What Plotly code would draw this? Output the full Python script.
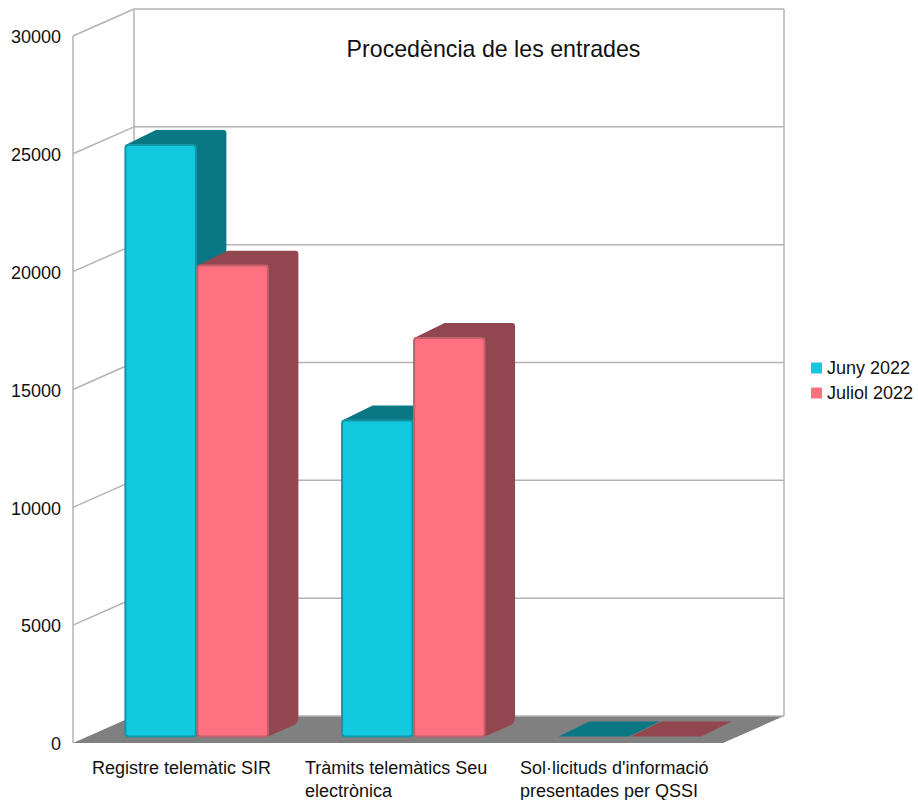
import plotly.graph_objects as go

# Chart content
categories = [
    "Registre telemàtic SIR",
    "Tràmits telemàtics Seu<br>electrònica",
    "Sol·licituds d'informació<br>presentades per QSSI",
]
series_names = ["Juny 2022", "Juliol 2022"]
juny_2022 = [25100, 13410, 5]
juliol_2022 = [19980, 16910, 5]
y_ticks = [0, 5000, 10000, 15000, 20000, 25000, 30000]
chart_title = "Procedència de les entrades"

# Colours: front face, depth faces, bevel edge
front_colors = ["#12C9DF", "#FF7080"]
depth_colors = ["#0A7785", "#924650"]
edge_colors = ["#1296A8", "#C2606C"]
grid_color = "#B3B3B3"
floor_color = "#808080"
text_color = "#111111"
font_family = "Liberation Sans"

# Pixel scale of the projection: one category and one value unit
PX_PER_CAT = 650 / 3
PX_PER_VAL = 708 / 30000
cat_x = lambda px: px / PX_PER_CAT
val_y = lambda px: px / PX_PER_VAL

# Oblique depth of the chart box and the position of the bars within it
box_dx, box_dy = cat_x(61), val_y(27)
bar_off_x, bar_off_y = cat_x(15.3), val_y(6.5)
bar_dx, bar_dy = cat_x(30.5), val_y(15)
bar_width = cat_x(70.5)
n_cats = len(categories)

# Values below this have no visible front face
FLAT_VALUE = 100


def line(x0, y0, x1, y1):
    return dict(type="line", x0=x0, y0=y0, x1=x1, y1=y1, xref="x", yref="y", layer="below",
                line=dict(color=grid_color, width=1.5))


def depth_faces(xl, xr, base, value, color):
    """Top and side of one bar, as a single outline with softened back corners."""
    top = base + value
    if value < FLAT_VALUE:
        # A bar with almost no height is just its top face
        path = f"M{xl},{top} L{xl + bar_dx},{top + bar_dy} L{xr + bar_dx},{top + bar_dy} L{xr},{top} Z"
    else:
        rx = cat_x(3)
        ry = val_y(3)
        path = (
            f"M{xl},{top} L{xl + bar_dx},{top + bar_dy} L{xr + bar_dx - rx},{top + bar_dy} "
            f"Q{xr + bar_dx},{top + bar_dy} {xr + bar_dx},{top + bar_dy - ry} "
            f"L{xr + bar_dx},{base + bar_dy + ry} "
            f"Q{xr + bar_dx},{base + bar_dy} {xr + bar_dx - rx},{base + bar_dy - ry} "
            f"L{xr},{base} L{xr},{top} Z"
        )
    return dict(type="path", path=path, xref="x", yref="y", layer="below",
                fillcolor=color, line=dict(width=0))


shapes = []

# Floor of the box
shapes.append(dict(
    type="path",
    path=f"M0,0 L{n_cats},0 L{n_cats + box_dx},{box_dy} L{box_dx},{box_dy} Z",
    xref="x", yref="y", layer="below", fillcolor=floor_color, line=dict(width=0),
))

# Back wall and side wall grid
for v in y_ticks[1:]:
    shapes.append(line(box_dx, v + box_dy, n_cats + box_dx, v + box_dy))
    shapes.append(line(0, v, box_dx, v + box_dy))
shapes.append(line(0, 0, 0, y_ticks[-1]))
shapes.append(line(box_dx, box_dy, box_dx, y_ticks[-1] + box_dy))
shapes.append(line(n_cats + box_dx, box_dy, n_cats + box_dx, y_ticks[-1] + box_dy))
shapes.append(line(box_dx, box_dy, n_cats + box_dx, box_dy))

# Depth faces, drawn left to right so later bars sit over earlier ones
centers = [[i + 0.5 + bar_off_x - cat_x(36), i + 0.5 + bar_off_x + cat_x(36)] for i in range(n_cats)]
for i in range(n_cats):
    for s, values in enumerate([juny_2022, juliol_2022]):
        c = centers[i][s]
        shapes.append(depth_faces(c - bar_width / 2, c + bar_width / 2, bar_off_y, values[i], depth_colors[s]))

fig = go.Figure()
for s, values in enumerate([juny_2022, juliol_2022]):
    fig.add_trace(go.Bar(
        name=series_names[s],
        x=[centers[i][s] for i in range(n_cats)],
        y=values,
        base=bar_off_y,
        width=bar_width,
        marker=dict(
            color=front_colors[s],
            cornerradius=3,
            opacity=[1 if v > FLAT_VALUE else 0 for v in values],
            line=dict(color=edge_colors[s], width=[2 if v > FLAT_VALUE else 0 for v in values]),
        ),
        showlegend=False,
    ))

annotations = []

# Category labels, left aligned inside their centred blocks
label_nudges = [0, -2, 0]
for i, label in enumerate(categories):
    annotations.append(dict(
        text=label, x=i + 0.5, y=0, xref="x", yref="y", yshift=-13, xshift=label_nudges[i],
        xanchor="center", yanchor="top", align="left", showarrow=False,
        font=dict(family=font_family, size=18, color=text_color),
    ))

# Legend entries to the right of the box
legend_rows = [368, 393]
for s, row in enumerate(legend_rows):
    shapes.append(dict(
        type="rect", xref="paper", yref="paper", layer="above",
        x0=(811 - 71) / 715, x1=(822 - 71) / 715,
        y0=(746 - row - 5.5) / 740, y1=(746 - row + 5.5) / 740,
        fillcolor=front_colors[s], line=dict(width=0),
    ))
    annotations.append(dict(
        text=series_names[s], x=(825 - 71) / 715, y=(746 - row) / 740, xref="paper", yref="paper",
        xanchor="left", yanchor="middle", showarrow=False,
        font=dict(family=font_family, size=18, color=text_color),
    ))

fig.update_layout(
    width=918,
    height=800,
    autosize=False,
    margin=dict(l=71, r=132, t=6, b=54),
    paper_bgcolor="white",
    plot_bgcolor="white",
    barmode="overlay",
    showlegend=False,
    title=dict(
        text=chart_title, x=493.5 / 918, y=1 - 49 / 800, xref="container", yref="container",
        xanchor="center", yanchor="middle",
        font=dict(family=font_family, size=23.2, color=text_color),
    ),
    xaxis=dict(
        range=[cat_x(-2), n_cats + box_dx + cat_x(2)],
        showgrid=False, zeroline=False, showticklabels=False, showline=False, ticks="",
    ),
    yaxis=dict(
        range=[val_y(-3), y_ticks[-1] + box_dy + val_y(3)],
        tickvals=y_ticks,
        ticktext=[str(v) for v in y_ticks],
        ticklabelstandoff=9,
        ticklabelshift=1,
        tickfont=dict(family=font_family, size=18, color=text_color),
        showgrid=False, zeroline=False, showline=False, ticks="",
    ),
    shapes=shapes,
    annotations=annotations,
)

fig.write_html("out.html")
